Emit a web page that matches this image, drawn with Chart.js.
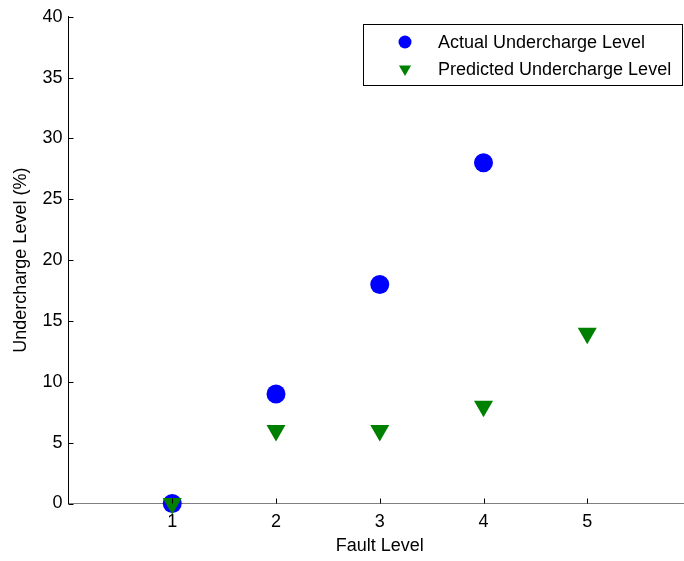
<!DOCTYPE html>
<html>
<head>
<meta charset="utf-8">
<script src="https://cdn.jsdelivr.net/npm/chart.js@4/dist/chart.umd.min.js"></script>
<style>
  html, body { margin: 0; padding: 0; background: #fff; overflow: hidden; }
  #wrap { position: relative; width: 684px; height: 561px; overflow: hidden; }
</style>
</head>
<body>
<div id="wrap"><canvas id="c" width="702" height="561"></canvas></div>
<script>
const faultLevels = [1, 2, 3, 4, 5];
const actual      = [0, 9, 18, 28];
const predicted   = [0, 6, 6, 8, 14];
const xTicks      = [1, 2, 3, 4, 5];
const yTicks      = [0, 5, 10, 15, 20, 25, 30, 35, 40];
const seriesNames = ['Actual Undercharge Level', 'Predicted Undercharge Level'];

const FONT = { family: '"Liberation Sans", Arial, sans-serif', size: 18 };

// MATLAB style: short tick marks pointing into the axes
const innerTicks = {
    id: 'innerTicks',
    afterDraw(chart) {
        const { ctx, chartArea: a, scales: { x, y } } = chart;
        ctx.save();
        ctx.strokeStyle = '#000';
        ctx.lineWidth = 1;
        ctx.beginPath();
        xTicks.forEach(v => {
            const px = Math.round(x.getPixelForValue(v)) + 0.5;
            ctx.moveTo(px, a.bottom);
            ctx.lineTo(px, a.bottom - 5);
        });
        yTicks.forEach(v => {
            const py = Math.round(y.getPixelForValue(v)) + 0.5;
            ctx.moveTo(a.left, py);
            ctx.lineTo(a.left + 5, py);
        });
        ctx.stroke();
        ctx.restore();
    }
};

// boxed legend in the top right corner
const boxLegend = {
    id: 'boxLegend',
    afterDraw(chart) {
        const ctx = chart.ctx;
        const bx = 363.5, by = 24.5, bw = 319, bh = 61;
        ctx.save();
        ctx.fillStyle = '#fff';
        ctx.fillRect(bx, by, bw, bh);
        ctx.strokeStyle = '#000';
        ctx.lineWidth = 1;
        ctx.strokeRect(bx, by, bw, bh);
        ctx.font = `${FONT.size}px ${FONT.family}`;
        ctx.textBaseline = 'middle';
        chart.data.datasets.forEach((ds, i) => {
            const cy = 42 + i * 27;
            ctx.fillStyle = ds.backgroundColor;
            ctx.strokeStyle = ds.backgroundColor;
            Chart.helpers.drawPoint(ctx, {
                pointStyle: ds.pointStyle,
                rotation: ds.pointRotation || 0,
                radius: i === 0 ? 6.5 : 7,
                borderWidth: 0
            }, 405, cy);
            ctx.fillStyle = '#000';
            ctx.fillText(ds.label, 438, cy + 1);
        });
        ctx.restore();
    }
};

new Chart(document.getElementById('c'), {
    type: 'scatter',
    data: {
        datasets: [
            {
                label: seriesNames[0],
                data: actual.map((v, i) => ({ x: faultLevels[i], y: v })),
                pointStyle: 'circle',
                pointRadius: 9.5,
                backgroundColor: '#0000ff',
                borderWidth: 0,
                order: 1,
                clip: false
            },
            {
                label: seriesNames[1],
                data: predicted.map((v, i) => ({ x: faultLevels[i], y: v })),
                pointStyle: 'triangle',
                pointRotation: 180,
                pointRadius: 11,
                backgroundColor: '#008000',
                borderWidth: 0,
                order: 0,
                clip: false
            }
        ]
    },
    options: {
        responsive: false,
        animation: false,
        layout: { padding: { top: 15, right: 0, left: 0, bottom: 0 } },
        plugins: { legend: { display: false }, tooltip: { enabled: false } },
        scales: {
            x: {
                type: 'linear',
                min: 0,
                max: 6,
                afterBuildTicks: s => { s.ticks = xTicks.map(v => ({ value: v })); },
                afterFit: s => { s.height = 57.5; },
                grid: { display: false, drawTicks: false },
                border: { color: '#808080', width: 1 },
                ticks: { color: '#000', font: FONT, padding: 8, maxRotation: 0 },
                title: { display: true, text: 'Fault Level', color: '#000', font: FONT, padding: { top: 0, bottom: 4 } }
            },
            y: {
                min: 0,
                max: 40,
                afterBuildTicks: s => { s.ticks = yTicks.map(v => ({ value: v })); },
                afterFit: s => { s.width = 68.5; },
                grid: { display: false, drawTicks: false },
                border: { color: '#000', width: 1 },
                ticks: { color: '#000', font: FONT, padding: 6 },
                title: { display: true, text: 'Undercharge Level (%)', color: '#000', font: FONT, padding: { top: 10, bottom: 0 } }
            }
        }
    },
    plugins: [innerTicks, boxLegend]
});
</script>
</body>
</html>
